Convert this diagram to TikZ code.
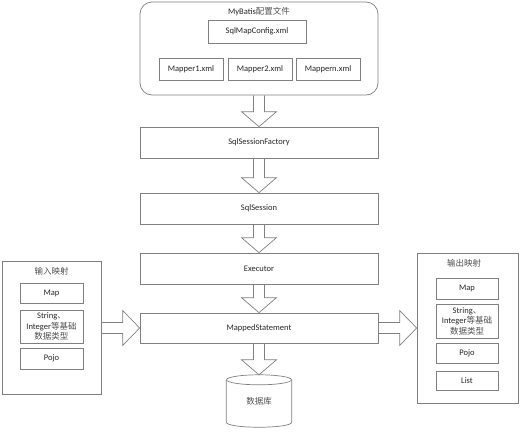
\documentclass[tikz,border=0pt]{standalone}
\usepackage{fontspec}
\setmainfont{Carlito}
\newfontfamily\cjk{Noto Sans CJK SC}
\usetikzlibrary{calc,backgrounds}
\definecolor{lc}{HTML}{808080}
\definecolor{tc}{HTML}{262626}
\definecolor{cc}{HTML}{505050}
\newcommand\blkdown[2]{%
  \draw[blk] ($#1+(-5.5,0)$) -- ($#2+(-5.5,-15)$) -- ($#2+(-17.5,-15)$) -- #2 -- ($#2+(17.5,-15)$) -- ($#2+(5.5,-15)$) -- ($#1+(5.5,0)$);}
\newcommand\blkright[2]{%
  \draw[blk] ($#1+(0,-5.5)$) -- ($#2+(-17,-5.5)$) -- ($#2+(-17,-17.5)$) -- #2 -- ($#2+(-17,17.5)$) -- ($#2+(-17,5.5)$) -- ($#1+(0,5.5)$);}
\newcommand\zh[1]{{\cjk\color{cc}#1}}
\begin{document}
\begin{tikzpicture}[x=1pt,y=-1pt,
  font=\fontsize{8.5}{12}\selectfont,
  bx/.style={draw=lc, line width=0.7pt, fill=white, inner sep=0pt, text=tc, anchor=center, align=center},
  wide/.style={bx, minimum width=238pt, minimum height=31pt},
  small/.style={bx, minimum width=63pt},
  lbl/.style={inner sep=0pt, text=tc, anchor=center},
  blk/.style={draw=lc, line width=0.7pt, fill=white, line join=miter}]
\useasboundingbox (0,0) rectangle (520,442);

% top configuration group
\node[bx, rounded corners=12pt, minimum width=238pt, minimum height=93pt] (cfg) at (259,48.5) {};
\node[lbl] (cfgtitle) at (259,12) {MyBatis\zh{配置文件}};
\node[bx, minimum width=98pt, minimum height=23pt] (smc) at (257,31.5) {SqlMapConfig.xml};
\node[bx, minimum width=64pt, minimum height=22pt] (m1) at (191,69) {Mapper1.xml};
\node[bx, minimum width=64pt, minimum height=22pt] (m2) at (260,69) {Mapper2.xml};
\node[bx, minimum width=64pt, minimum height=22pt] (mn) at (328,69) {Mappern.xml};

% main column
\node[wide] (sf) at (259,142.5) {SqlSessionFactory};
\node[wide] (ss) at (259,208.5) {SqlSession};
\node[wide] (ex) at (259,268.5) {Executor};
\node[wide, minimum height=30pt] (ms) at (259,328) {MappedStatement};

% database
\node[lbl, minimum width=65pt, minimum height=42pt] (db) at (259,401) {\zh{数据库}};
\draw[draw=lc, line width=0.7pt] (db.north west) -- (db.south west)
  .. controls +(0,6.7) and +(0,6.7) .. (db.south east) -- (db.north east);
\draw[draw=lc, line width=0.7pt] (db.north) ellipse [x radius=32.5pt, y radius=5pt];
\coordinate (dbtop) at ($(db.north)+(0,-5)$);

% input mapping
\node[bx, minimum width=99pt, minimum height=133pt] (inb) at (51.5,327.5) {};
\node[lbl] (intitle) at (51.5,271) {\zh{输入映射}};
\node[small, minimum height=20pt] (inmap) at (51.5,293) {Map};
\node[small, minimum height=33pt] (instr) at (51.5,326.5) {String\zh{、}\\[-1.5pt]Integer\zh{等基础}\\[-1.5pt]\zh{数据类型}};
\node[small, minimum height=21pt] (inpojo) at (51.5,358.5) {Pojo};

% output mapping
\node[bx, minimum width=101pt, minimum height=150pt] (outb) at (467.5,328) {};
\node[lbl] (outtitle) at (464,263) {\zh{输出映射}};
\node[small, minimum width=62pt, minimum height=21pt] (outmap) at (467,288.5) {Map};
\node[small, minimum width=62pt, minimum height=34pt] (outstr) at (467,321) {String\zh{、}\\[-1.5pt]Integer\zh{等基础}\\[-1.5pt]\zh{数据类型}};
\node[small, minimum width=62pt, minimum height=20pt] (outpojo) at (467,353) {Pojo};
\node[small, minimum width=62pt, minimum height=19pt] (outlist) at (467,380.5) {List};

\coordinate (la) at (inb.east |- ms.west);
\coordinate (ra) at (outb.west |- ms.east);

\begin{pgfonlayer}{background}
\blkdown{(cfg.south)}{(sf.north)}
\blkdown{(sf.south)}{(ss.north)}
\blkdown{(ss.south)}{(ex.north)}
\blkdown{(ex.south)}{(ms.north)}
\blkdown{(ms.south)}{(dbtop)}
\blkright{(la)}{(ms.west)}
\blkright{(ms.east)}{(ra)}
\end{pgfonlayer}
\end{tikzpicture}
\end{document}
